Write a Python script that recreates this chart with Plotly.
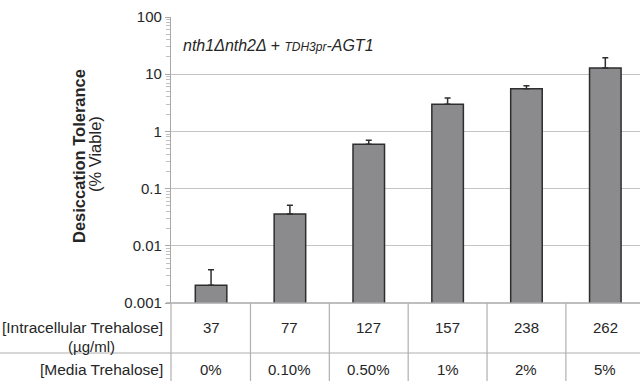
import plotly.graph_objects as go

categories = ["0%", "0.10%", "0.50%", "1%", "2%", "5%"]
intracellular = ["37", "77", "127", "157", "238", "262"]
viability = [0.00204, 0.036, 0.595, 2.97, 5.58, 12.8]
error_upper = [0.0038, 0.051, 0.70, 3.84, 6.3, 19.4]
tick_vals = [0.001, 0.01, 0.1, 1, 10, 100]
tick_text = ["0.001", "0.01", "0.1", "1", "10", "100"]

FONT = "Arial, Liberation Sans, sans-serif"
TXT = "#262626"
GRID = "#c4c4c4"

W, H = 640, 381
ML, MT, MB = 171, 17, 78
PW, PH = W - ML, H - MT - MB

xs = list(range(len(categories)))
err_plus = [u - v for u, v in zip(error_upper, viability)]

minor_vals = [m * 10 ** e for e in range(-3, 2) for m in range(2, 10)]

fig = go.Figure()
fig.add_trace(go.Bar(
    x=xs, y=viability, width=0.4,
    marker=dict(color="#8b8b8e", line=dict(color="#2e2e2e", width=1.5)),
    error_y=dict(type="data", symmetric=False, array=err_plus,
                 arrayminus=[0] * len(xs), color="#2e2e2e", thickness=1.5, width=3),
    showlegend=False, hoverinfo="skip",
))

fig.update_layout(
    width=W, height=H,
    margin=dict(l=ML, r=0, t=MT, b=MB, pad=0),
    paper_bgcolor="white", plot_bgcolor="white",
    font=dict(family=FONT, size=15, color=TXT),
)
fig.update_xaxes(range=[-0.508, 5.44], showticklabels=False, showgrid=False,
                 zeroline=False, showline=False, ticks="")
fig.update_yaxes(type="log", range=[-3, 2], tickvals=tick_vals, ticktext=tick_text,
                 showgrid=True, gridcolor=GRID, gridwidth=1.3,
                 showline=True, linecolor="#a8a8a8", linewidth=1.3,
                 ticks="outside", ticklen=5, tickcolor="#a8a8a8",
                 minor=dict(ticks="outside", ticklen=4, tickcolor="#c0c0c0",
                            tickvals=minor_vals, showgrid=False),
                 zeroline=False, tickfont=dict(size=15, color=TXT))

shapes = []
shapes.append(dict(type="line", xref="paper", yref="paper", x0=-5 / PW, x1=1,
                   y0=0, y1=0, line=dict(color="#a8a8a8", width=1.3)))
y_sep = -(353 - (MT + PH)) / PH
shapes.append(dict(type="line", xref="paper", yref="paper", x0=-ML / PW, x1=1,
                   y0=y_sep, y1=y_sep, line=dict(color="#b0b0b0", width=1.2)))
y_bot = -MB / PH
shapes.append(dict(type="line", xref="paper", yref="paper", x0=0, x1=0,
                   y0=0, y1=y_bot, line=dict(color="#b0b0b0", width=1.2)))
for i in range(len(xs) - 1):
    shapes.append(dict(type="line", xref="x", yref="paper", x0=i + 0.5, x1=i + 0.5,
                       y0=0, y1=y_bot, line=dict(color="#b0b0b0", width=1.2)))
fig.update_layout(shapes=shapes)


def py(pix):
    return 1 - (pix - MT) / PH


def px(pix):
    return (pix - ML) / PW


ann = []
for i, (a, b) in enumerate(zip(intracellular, categories)):
    ann.append(dict(x=i, xref="x", y=py(327.5), yref="paper", text=a, showarrow=False,
                    font=dict(size=15, color=TXT), xanchor="center", yanchor="middle"))
    ann.append(dict(x=i, xref="x", y=py(369.5), yref="paper", text=b, showarrow=False,
                    font=dict(size=15, color=TXT), xanchor="center", yanchor="middle"))
ann.append(dict(x=px(165), xref="paper", y=py(327.5), yref="paper",
                text="[Intracellular Trehalose]", showarrow=False,
                font=dict(size=15.5, color=TXT), xanchor="right", yanchor="middle"))
ann.append(dict(x=px(91), xref="paper", y=py(346.5), yref="paper",
                text="(µg/ml)", showarrow=False,
                font=dict(size=15, color=TXT), xanchor="center", yanchor="middle"))
ann.append(dict(x=px(165), xref="paper", y=py(369.5), yref="paper",
                text="[Media Trehalose]", showarrow=False,
                font=dict(size=15.5, color=TXT), xanchor="right", yanchor="middle"))
ann.append(dict(x=px(79), xref="paper", y=py(156), yref="paper",
                text="<b>Desiccation Tolerance</b>", showarrow=False, textangle=-90,
                font=dict(size=16.5, color=TXT), xanchor="center", yanchor="middle"))
ann.append(dict(x=px(95), xref="paper", y=py(154), yref="paper",
                text="(% Viable)", showarrow=False, textangle=-90,
                font=dict(size=16.5, color=TXT), xanchor="center", yanchor="middle"))
ann.append(dict(x=px(181), xref="paper", y=py(45), yref="paper",
                text="<i>nth1Δnth2Δ + <span style='font-size:12px'>TDH3pr</span>-AGT1</i>",
                showarrow=False, font=dict(size=16, color=TXT),
                xanchor="left", yanchor="middle"))
fig.update_layout(annotations=ann)

fig.write_html("out.html", config={"displayModeBar": False},
               post_script="document.body.style.margin='0';document.body.style.padding='0';")
